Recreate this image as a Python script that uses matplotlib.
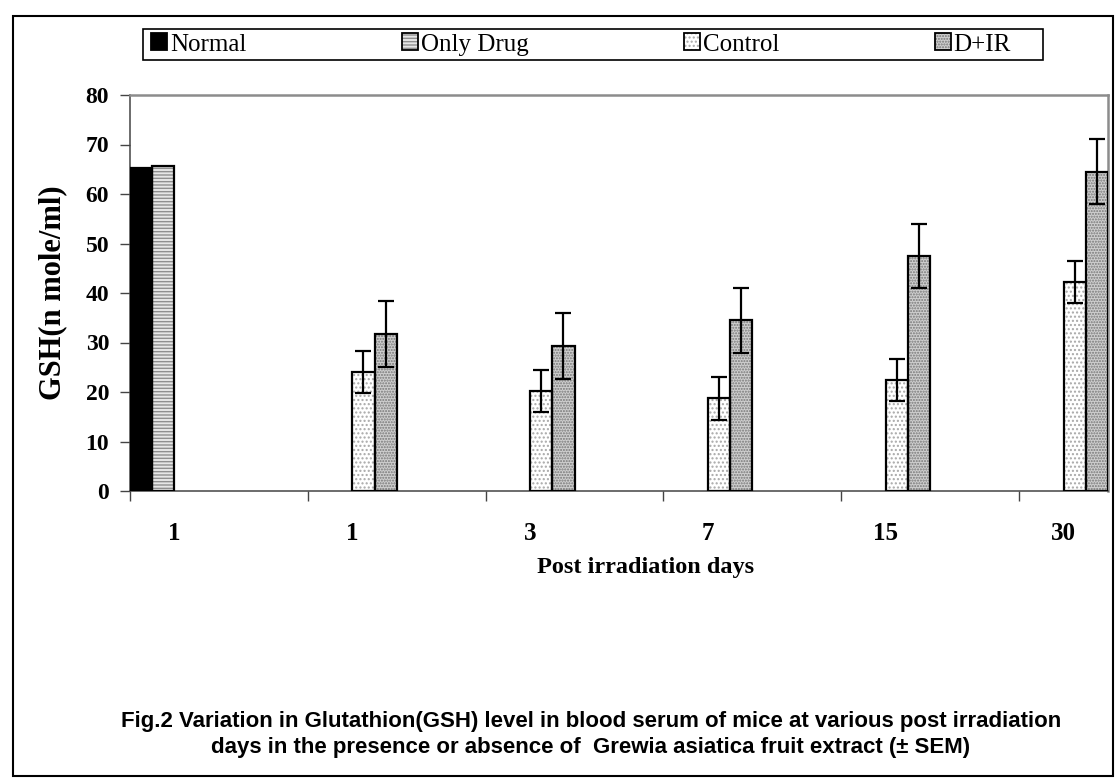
import numpy as np
import matplotlib
matplotlib.use("Agg")
import matplotlib.pyplot as plt
from matplotlib.patches import Patch, Rectangle
from matplotlib.legend_handler import HandlerTuple

# ---- data ----
categories = ["1", "1", "3", "7", "15", "30"]
series_names = ["Normal", "Only Drug", "Control", "D+IR"]
normal = [65.3, None, None, None, None, None]
only_drug = [65.6, None, None, None, None, None]
control = [None, 24.1, 20.2, 18.7, 22.4, 42.3]
control_sem = [None, 4.25, 4.3, 4.3, 4.25, 4.25]
d_ir = [None, 31.7, 29.3, 34.5, 47.5, 64.5]
d_ir_sem = [None, 6.6, 6.6, 6.6, 6.5, 6.55]
y_ticks = [0, 10, 20, 30, 40, 50, 60, 70, 80]

values = [normal, only_drug, control, d_ir]
sems = [None, None, control_sem, d_ir_sem]

# ---- styles ----
styles = [
    dict(fc="black", hatch=None, hc="black"),
    dict(fc="#e6e6e6", hatch="-----", hc="#8f8f8f"),
    dict(fc="white", hatch="....", hc="#a8a8a8"),
    dict(fc="#cfcfcf", hatch="......", hc="#777777"),
]
plt.rcParams["hatch.linewidth"] = 1.0
serif = ["Liberation Serif", "DejaVu Serif"]

W, H = 1118, 779
fig = plt.figure(figsize=(W / 100, H / 100), dpi=100)
ax = fig.add_axes([130 / W, 1 - 491 / H, (1108 - 130) / W, (491 - 95) / H])

bw = 0.125
handles = []
for i, (vals, st) in enumerate(zip(values, styles)):
    xs, hs = [], []
    for k, v in enumerate(vals):
        if v is not None:
            xs.append(k + (i + 0.5) * bw)
            hs.append(v)
    ax.bar(xs, hs, width=bw, color=st["fc"], hatch=st["hatch"],
           edgecolor=st["hc"], linewidth=0, zorder=2)
    ax.bar(xs, hs, width=bw, facecolor="none", edgecolor="black",
           linewidth=1.6, zorder=3)
    if sems[i] is not None:
        es = [e for e, v in zip(sems[i], vals) if v is not None]
        ax.errorbar(xs, hs, yerr=es, fmt="none", ecolor="black",
                    elinewidth=1.6, capsize=5.8, capthick=1.6, zorder=4)
    handles.append((Patch(facecolor=st["fc"], hatch=st["hatch"],
                          edgecolor=st["hc"], linewidth=0),
                    Patch(facecolor="none", edgecolor="black", linewidth=1.3)))

ax.set_xlim(0, 5.5)
ax.set_ylim(0, 80)
ax.set_yticks(y_ticks)
ax.set_yticklabels([str(t) for t in y_ticks], fontfamily=serif,
                   fontweight="bold", fontsize=17)
ax.tick_params(axis="y", direction="out", length=7, width=1, color="#444444", pad=8)

ax.set_xticks(range(len(categories)))
ax.set_xticklabels([""] * len(categories))
ax.tick_params(axis="x", which="major", direction="out", length=7, width=1,
               color="#444444")
ax.set_xticks([k + 0.25 for k in range(len(categories))], minor=True)
ax.set_xticklabels(categories, minor=True, fontfamily=serif,
                   fontweight="bold", fontsize=18)
ax.tick_params(axis="x", which="minor", length=0, pad=22)

for s in ["left", "bottom"]:
    ax.spines[s].set_color("#444444")
    ax.spines[s].set_linewidth(1.1)
for s in ["top", "right"]:
    ax.spines[s].set_color("#8c8c8c")
    ax.spines[s].set_linewidth(1.8)

ax.set_xlabel("Post irradiation days", fontfamily=serif, fontweight="bold",
              fontsize=17.5)
ax.xaxis.set_label_coords((646 - 130) / (1108 - 130), -(568 - 491) / (491 - 95))
ax.xaxis.label.set_va("center")
ax.set_ylabel("GSH(n mole/ml)", fontfamily=serif, fontweight="bold", fontsize=22)
ax.yaxis.set_label_coords(-(130 - 53) / (1108 - 130), 0.5)
ax.yaxis.label.set_va("center")

leg = fig.legend(handles, series_names, ncol=4, mode="expand",
                 bbox_to_anchor=(146 / W, 1 - 60 / H, (1016 - 146) / W, 31 / H),
                 loc="center", borderaxespad=0, frameon=False,
                 handler_map={tuple: HandlerTuple(ndivide=1, pad=0)},
                 handlelength=0.65, handleheight=0.65, handletextpad=0.1,
                 borderpad=0.2, prop={"family": serif, "size": 18})
fig.patches.append(Rectangle((143 / W, 1 - 60 / H), 900 / W, 31 / H,
                             transform=fig.transFigure, fill=False,
                             edgecolor="black", linewidth=1.2))

cap_font = ["Liberation Sans", "DejaVu Sans"]
fig.text(591 / W, 1 - 722 / H,
         "Fig.2 Variation in Glutathion(GSH) level in blood serum of mice at various post irradiation",
         ha="center", va="center", fontfamily=cap_font, fontweight="bold", fontsize=16)
fig.text(591 / W, 1 - 748 / H,
         "days in the presence or absence of  Grewia asiatica fruit extract (\u00b1 SEM)",
         ha="center", va="center", fontfamily=cap_font, fontweight="bold", fontsize=16)

fig.patches.append(Rectangle((13 / W, 1 - 776 / H), (1113 - 13) / W, (776 - 16) / H,
                             transform=fig.transFigure, fill=False,
                             edgecolor="black", linewidth=1.5))

fig.savefig("out.png", dpi=100)
